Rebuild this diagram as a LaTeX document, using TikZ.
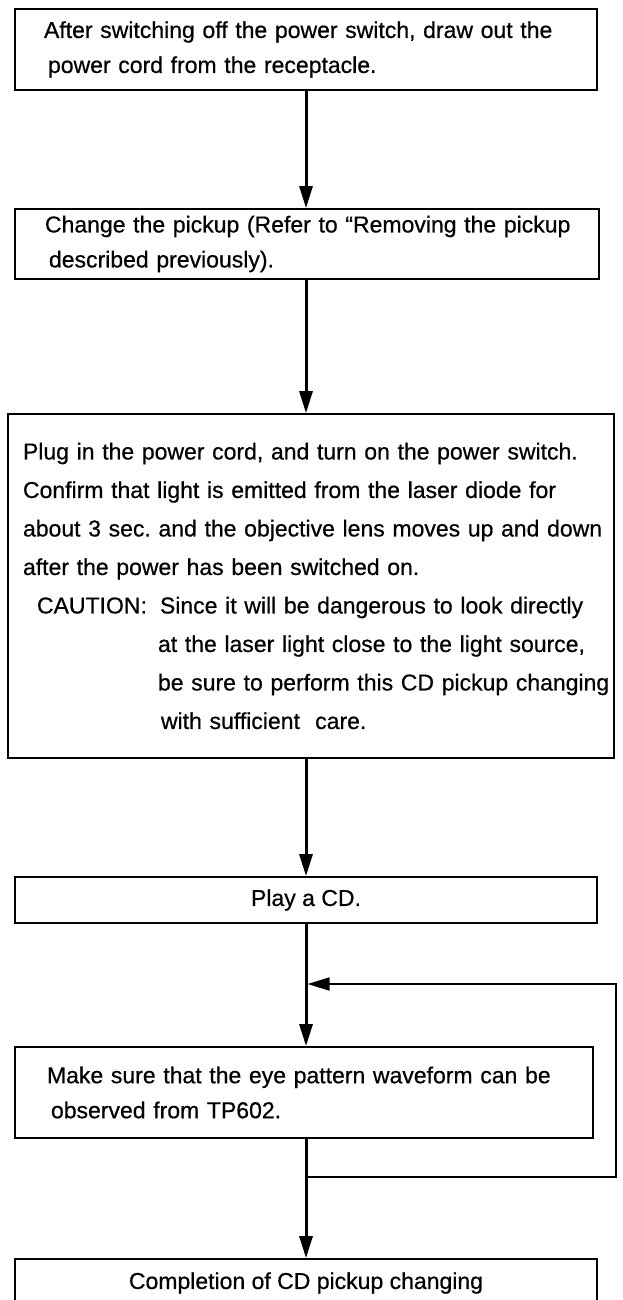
\documentclass[tikz,border=0pt]{standalone}
\usepackage{fontspec}
\setmainfont[FakeBold=0.6]{Liberation Sans}
\usetikzlibrary{arrows.meta}
\newcommand\tline[2]{\hspace*{#1}\mbox{#2}}
\begin{document}
\frenchspacing
\begin{tikzpicture}[x=1pt,y=1pt,
  box/.style={draw=black, line width=1.8pt, rectangle, inner sep=0pt, align=left,
    font=\fontsize{23}{35}\selectfont},
  arr/.style={line width=3pt, -{Triangle[length=22pt,width=13pt]}},
  fb/.style={line width=1.8pt},
  fbarr/.style={line width=1.8pt, -{Triangle[length=22pt,width=13pt]}}]
\useasboundingbox (0,0) rectangle (623,-1300);
% boxes
\node[box, minimum width=582pt, minimum height=81pt, text width=582pt] (b1) at (306,-49.5)
  {\tline{29pt}{After switching off the power switch, draw out the}\\
   \tline{33pt}{power cord from the receptacle.}};
\node[box, minimum width=584pt, minimum height=70pt, text width=584pt] (b2) at (307,-244)
  {\tline{30pt}{Change the pickup (Refer to ``Removing the pickup}\\
   \tline{34pt}{described previously).}};
\node[box, minimum width=606pt, minimum height=344pt, text width=606pt,
  font=\fontsize{23}{38.5}\selectfont] (b3) at (311,-586)
  {\tline{15pt}{Plug in the power cord, and turn on the power switch.}\\
   \tline{15pt}{Confirm that light is emitted from the laser diode for}\\
   \tline{15pt}{about 3 sec. and the objective lens moves up and down}\\
   \tline{15pt}{after the power has been switched on.}\\
   \tline{29pt}{\makebox[123pt][l]{CAUTION:}Since it will be dangerous to look directly}\\
   \tline{150pt}{at the laser light close to the light source,}\\
   \tline{150pt}{be sure to perform this CD pickup changing}\\
   \tline{153pt}{with sufficient\ \ care.}};
\node[box, minimum width=582pt, minimum height=46pt, align=center] (b4) at (306,-900)
  {Play a CD.};
\node[box, minimum width=578pt, minimum height=91pt, text width=578pt] (b5) at (304,-1092.5)
  {\tline{32pt}{Make sure that the eye pattern waveform can be}\\
   \tline{36pt}{observed from TP602.}};
\node[box, minimum width=582pt, minimum height=48pt, align=center] (b6) at (306,-1283)
  {Completion of CD pickup changing};
% connectors
\coordinate (fbR) at (616,-1177);
\coordinate (fbT) at (616,-984);
\draw[arr] (b1.south) -- (b1.south |- b2.north);
\draw[arr] (b1.south |- b2.south) -- (b1.south |- b3.north);
\draw[arr] (b1.south |- b3.south) -- (b4.north);
\draw[arr] (b4.south) -- (b4.south |- b5.north);
\draw[arr] (b4.south |- b5.south) -- (b4.south |- b6.north);
\draw[fb] (b4.south |- fbR) -- (fbR) -- (fbT) -- ([xshift=8pt]b4.south |- fbT);
\draw[fbarr] ([xshift=30pt]b4.south |- fbT) -- ([xshift=1.5pt]b4.south |- fbT);
\end{tikzpicture}
\end{document}
